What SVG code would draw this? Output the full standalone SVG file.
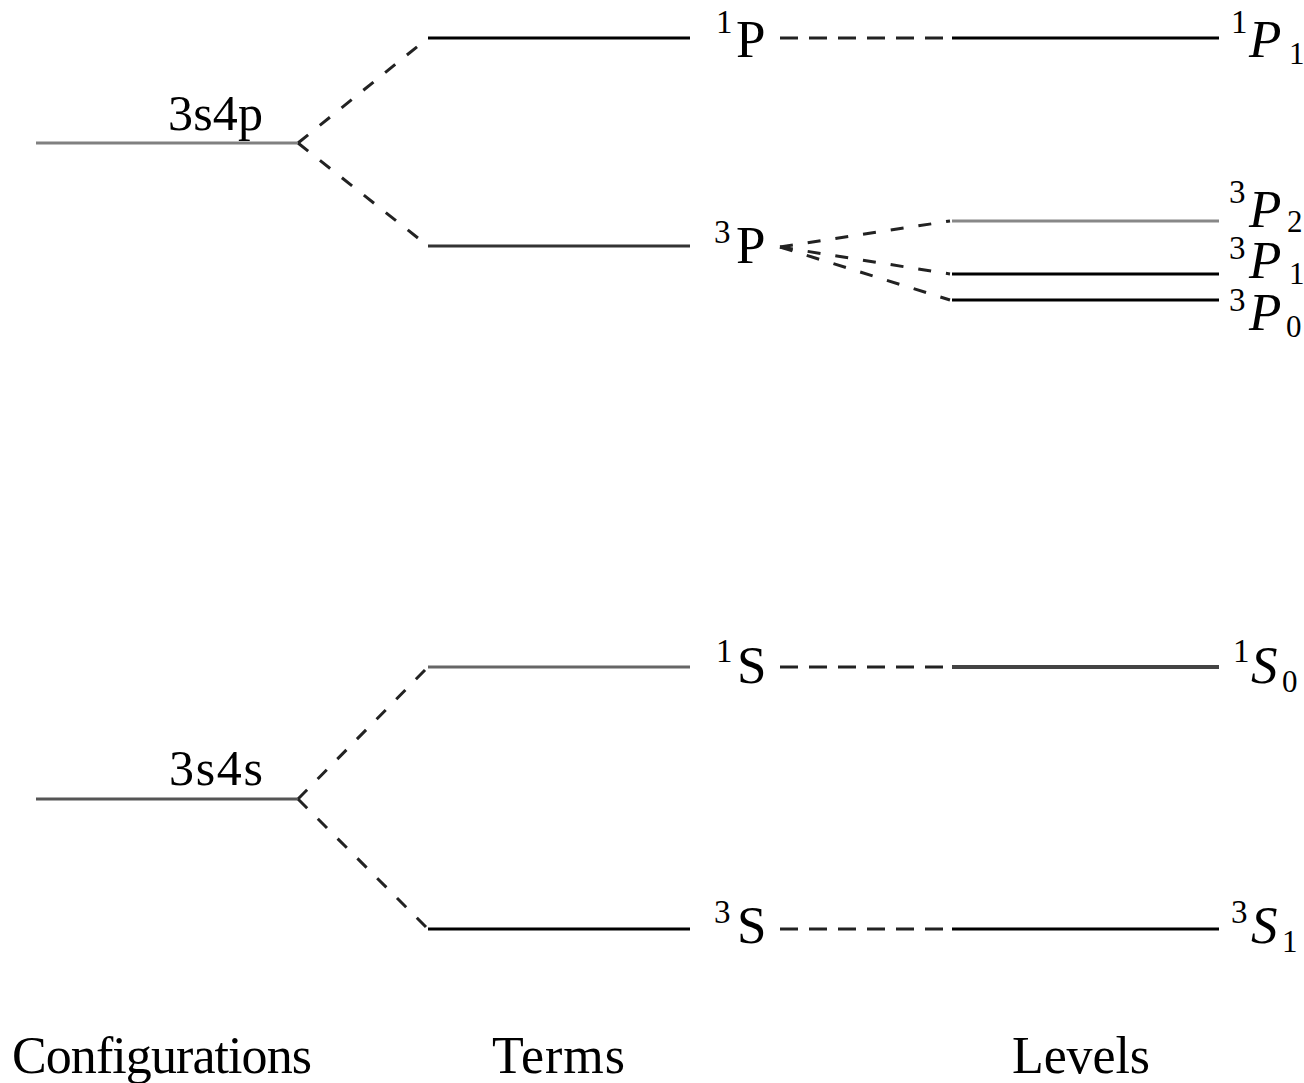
<svg xmlns="http://www.w3.org/2000/svg" width="1304" height="1083" viewBox="0 0 1304 1083" font-family="Liberation Serif, serif">
<style>
.lv{stroke:#000;stroke-width:3;fill:none}
.dash{stroke:#222;stroke-width:3;fill:none;stroke-dasharray:13 15}
.hd{stroke:#222;stroke-width:3;fill:none;stroke-dasharray:18 11}
.big{font-size:53px}
.sup{font-size:33px}
.sub{font-size:31px}
.it{font-style:italic}
.cfg{font-size:50px}
.ax{font-size:52px}
</style>
<rect width="1304" height="1083" fill="#fff"/>
<g id="connectors">
<line class="dash" x1="298" y1="143" x2="428" y2="38"/>
<line class="dash" x1="298" y1="143" x2="428" y2="246"/>
<line class="dash" x1="298" y1="799" x2="428" y2="667"/>
<line class="dash" x1="298" y1="799" x2="428" y2="929"/>
<line class="hd" x1="780" y1="38" x2="946" y2="38"/>
<line class="hd" x1="780" y1="667" x2="946" y2="667"/>
<line class="hd" x1="780" y1="929" x2="946" y2="929"/>
<line class="dash" x1="780" y1="247" x2="950" y2="221"/>
<line class="dash" x1="780" y1="247" x2="950" y2="274"/>
<line class="dash" x1="780" y1="247" x2="950" y2="300"/>
</g>
<g id="cfg-3s4p">
<line class="lv" x1="36" y1="143" x2="298" y2="143" style="stroke:#808080"/>
<text font-family="Liberation Serif, serif" class="cfg" x="168" y="130" textLength="95">3s4p</text>
</g>
<g id="cfg-3s4s">
<line class="lv" x1="36" y1="799" x2="298" y2="799" style="stroke:#555"/>
<text font-family="Liberation Serif, serif" class="cfg" x="169" y="785" textLength="94">3s4s</text>
</g>
<g id="term-1P">
<line class="lv" x1="428" y1="38" x2="690" y2="38"/>
<text font-family="Liberation Serif, serif" class="sup" x="716" y="33">1</text>
<text font-family="Liberation Serif, serif" class="big" x="736" y="57">P</text>
</g>
<g id="term-3P">
<line class="lv" x1="428" y1="246" x2="690" y2="246" style="stroke:#333"/>
<text font-family="Liberation Serif, serif" class="sup" x="714" y="243">3</text>
<text font-family="Liberation Serif, serif" class="big" x="736" y="263">P</text>
</g>
<g id="term-1S">
<line class="lv" x1="428" y1="667" x2="690" y2="667" style="stroke:#666"/>
<text font-family="Liberation Serif, serif" class="sup" x="716" y="662">1</text>
<text font-family="Liberation Serif, serif" class="big" x="737" y="683">S</text>
</g>
<g id="term-3S">
<line class="lv" x1="428" y1="929" x2="690" y2="929"/>
<text font-family="Liberation Serif, serif" class="sup" x="714" y="923">3</text>
<text font-family="Liberation Serif, serif" class="big" x="737" y="943">S</text>
</g>
<g id="level-1P1">
<line class="lv" x1="952" y1="38" x2="1219" y2="38"/>
<text font-family="Liberation Serif, serif" class="sup" x="1231" y="33">1</text>
<text font-family="Liberation Serif, serif" class="big it" x="1249" y="57">P</text>
<text font-family="Liberation Serif, serif" class="sub" x="1289" y="64">1</text>
</g>
<g id="level-3P2">
<line class="lv" x1="952" y1="221" x2="1219" y2="221" style="stroke:#888"/>
<text font-family="Liberation Serif, serif" class="sup" x="1229" y="203">3</text>
<text font-family="Liberation Serif, serif" class="big it" x="1249" y="227">P</text>
<text font-family="Liberation Serif, serif" class="sub" x="1287" y="232">2</text>
</g>
<g id="level-3P1">
<line class="lv" x1="952" y1="274" x2="1219" y2="274"/>
<text font-family="Liberation Serif, serif" class="sup" x="1229" y="259">3</text>
<text font-family="Liberation Serif, serif" class="big it" x="1249" y="278">P</text>
<text font-family="Liberation Serif, serif" class="sub" x="1289" y="284">1</text>
</g>
<g id="level-3P0">
<line class="lv" x1="952" y1="300" x2="1219" y2="300"/>
<text font-family="Liberation Serif, serif" class="sup" x="1229" y="311">3</text>
<text font-family="Liberation Serif, serif" class="big it" x="1249" y="330">P</text>
<text font-family="Liberation Serif, serif" class="sub" x="1286" y="337">0</text>
</g>
<g id="level-1S0">
<line class="lv" x1="952" y1="667" x2="1219" y2="667" style="stroke:#444;stroke-width:4"/>
<text font-family="Liberation Serif, serif" class="sup" x="1233" y="662">1</text>
<text font-family="Liberation Serif, serif" class="big it" x="1251" y="683">S</text>
<text font-family="Liberation Serif, serif" class="sub" x="1282" y="692">0</text>
</g>
<g id="level-3S1">
<line class="lv" x1="952" y1="929" x2="1219" y2="929"/>
<text font-family="Liberation Serif, serif" class="sup" x="1231" y="923">3</text>
<text font-family="Liberation Serif, serif" class="big it" x="1251" y="943">S</text>
<text font-family="Liberation Serif, serif" class="sub" x="1282" y="952">1</text>
</g>
<g id="axis-labels">
<text font-family="Liberation Serif, serif" class="ax" x="12" y="1073" textLength="300">Configurations</text>
<text font-family="Liberation Serif, serif" class="ax" x="492" y="1073" textLength="133">Terms</text>
<text font-family="Liberation Serif, serif" class="ax" x="1012" y="1073" textLength="138">Levels</text>
</g>
</svg>
